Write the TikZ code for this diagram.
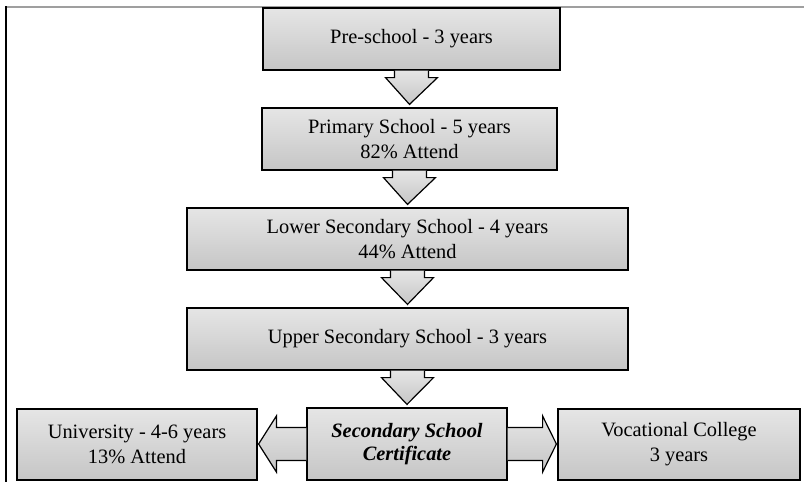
\documentclass[tikz,border=0pt]{standalone}
\usepackage{fontspec}
\setmainfont{Liberation Serif}
\usetikzlibrary{calc,shadows}

\tikzset{
  boite/.style={draw=black, line width=0.6pt, top color=gray!20, bottom color=gray!45,
    align=center, inner sep=0pt, font=\fontsize{10.2}{12.5}\selectfont,
    drop shadow={shadow xshift=0.5pt, shadow yshift=-0.5pt, fill=gray!45, opacity=0.7}},
  fleche/.style={draw=black, line width=0.6pt, top color=gray!20, bottom color=gray!45, line join=miter}
}

% fleche vers le bas entre deux boites
\newcommand{\flechebas}[2]{%
  \draw[fleche] ($(#1.south)+(-17,0)$) -- ($(#1.south)+(-17,7)$) -- ($(#1.south)+(-26,7)$)
    -- ($(#2.north)+(0,-3)$) -- ($(#1.south)+(26,7)$) -- ($(#1.south)+(17,7)$)
    -- ($(#1.south)+(17,0)$);}

\begin{document}
\begin{tikzpicture}[x=0.5pt,y=-0.5pt]
    \useasboundingbox (0,0) rectangle (804,482);

    % Cadre
    \draw[gray!75, line width=1pt] (6,6.5) -- (804,6.5);
    \draw[line width=0.8pt] (6,6) -- (6,482);

    % Boites
    \node[boite, minimum width=148.5pt, minimum height=31pt] (pre) at (411.5,39) {Pre-school - 3 years};
    \node[boite, minimum width=147.5pt, minimum height=31pt] (prim) at (409.5,139) {Primary School - 5 years\\82\% Attend};
    \node[boite, minimum width=220.5pt, minimum height=31pt] (low) at (407.5,239) {Lower Secondary School - 4 years\\44\% Attend};
    \node[boite, minimum width=220.5pt, minimum height=31pt] (up) at (407.5,339) {Upper Secondary School - 3 years};

    % Derniere ligne
    \node[boite, minimum width=100pt, minimum height=36pt, font=\fontsize{10.2}{11.5}\selectfont\bfseries\itshape] (cert) at (407,444) {Secondary School\\Certificate};
    \node[boite, minimum width=120pt, minimum height=35.5pt] (uni) at (137,444.5) {University - 4-6 years\\13\% Attend};
    \node[boite, minimum width=121pt, minimum height=35.5pt] (voc) at (679,444.5) {Vocational College\\3 years};

    % Fleches
    \flechebas{pre}{prim}
    \flechebas{prim}{low}
    \flechebas{low}{up}
    \flechebas{up}{cert}

    \draw[fleche] ($(cert.west)+(0,-16.5)$) -- ($(cert.west)+(-30,-16.5)$) -- ($(cert.west)+(-30,-28)$)
        -- ($(uni.east |- cert.west)+(1,0)$) -- ($(cert.west)+(-30,28)$) -- ($(cert.west)+(-30,16.5)$)
        -- ($(cert.west)+(0,16.5)$);
    \draw[fleche] ($(cert.east)+(0,-16.5)$) -- ($(cert.east)+(35,-16.5)$) -- ($(cert.east)+(35,-28)$)
        -- ($(voc.west |- cert.east)+(-1,0)$) -- ($(cert.east)+(35,28)$) -- ($(cert.east)+(35,16.5)$)
        -- ($(cert.east)+(0,16.5)$);
\end{tikzpicture}
\end{document}
